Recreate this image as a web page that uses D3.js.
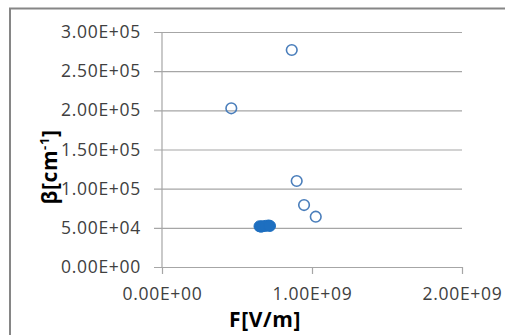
<!DOCTYPE html>
<html><head><meta charset="utf-8">
<script src="https://cdn.jsdelivr.net/npm/d3@7"></script>
<style>body{margin:0;background:#fff}svg{display:block}</style>
</head><body>
<svg id="c" width="505" height="335"></svg>
<script>
const openX = [8.65e8, 4.62e8, 8.98e8, 9.47e8, 1.025e9];
const openY = [2.77e5, 2.026e5, 1.098e5, 7.91e4, 6.42e4];
const filledX = [6.5e8, 6.6e8, 6.7e8, 6.9e8, 7.1e8, 7.2e8];
const filledY = [5.2e4, 5.15e4, 5.2e4, 5.25e4, 5.3e4, 5.25e4];
const xTicks = [0, 1e9, 2e9];
const yTicks = [0, 5e4, 1e5, 1.5e5, 2e5, 2.5e5, 3e5];
const fmt = v => { const s = v.toExponential(2).toUpperCase(); return s.replace(/E([+-])(\d)$/, "E$10$2"); };

const svg = d3.select("#c");
const x = d3.scaleLinear().domain([0, 2e9]).range([162, 462]);
const y = d3.scaleLinear().domain([0, 3e5]).range([267, 32]);
const font = "'Open Sans', sans-serif";

// outer border (top & left visible)
svg.append("path").attr("d", "M10,335 V8.5 H505").attr("fill", "none").attr("stroke", "#868686").attr("stroke-width", 2);

// y gridlines with left ticks
const yAxis = d3.axisLeft(y).tickValues(yTicks).tickSize(-(462 - 154)).tickSizeOuter(0).tickFormat(fmt);
const gy = svg.append("g").attr("transform", "translate(154,0)").call(yAxis);
gy.select(".domain").remove();
gy.selectAll(".tick line").attr("stroke", "#a6a6a6").attr("stroke-width", 1.2);
gy.selectAll(".tick text").attr("x", -13).attr("fill", "#404040").style("font-family", font)
  .style("font-size", "17.5px").style("letter-spacing", "0.7px");

// y axis line
svg.append("line").attr("x1", 162).attr("x2", 162).attr("y1", y(3e5)).attr("y2", y(0)).attr("stroke", "#a6a6a6").attr("stroke-width", 1.2);

// x axis
const xAxis = d3.axisBottom(x).tickValues(xTicks).tickSize(7).tickSizeOuter(0).tickFormat(fmt).tickPadding(14);
const gx = svg.append("g").attr("transform", "translate(0,267)").call(xAxis);
gx.select(".domain").attr("stroke", "#a6a6a6").attr("stroke-width", 1.2);
gx.selectAll(".tick line").attr("stroke", "#a6a6a6").attr("stroke-width", 1.2);
gx.selectAll(".tick text").attr("fill", "#404040").style("font-family", font)
  .style("font-size", "17.5px").style("letter-spacing", "0.7px");

// points
svg.append("g").selectAll("circle").data(filledX).join("circle")
  .attr("cx", (d) => x(d)).attr("cy", (d, i) => y(filledY[i])).attr("r", 5.5)
  .attr("fill", "#1e6fc0").attr("stroke", "#1e6fc0").attr("stroke-width", 1);
svg.append("g").selectAll("circle").data(openX).join("circle")
  .attr("cx", (d) => x(d)).attr("cy", (d, i) => y(openY[i])).attr("r", 5.3)
  .attr("fill", "none").attr("stroke", "#4a7ebb").attr("stroke-width", 1.6);

// titles
svg.append("text").attr("x", 265).attr("y", 327).attr("text-anchor", "middle")
  .style("font-family", font).style("font-weight", "bold").style("font-size", "21px").style("letter-spacing", "0.6px")
  .attr("fill", "#000").text("F[V/m]");
const yt = svg.append("text").attr("transform", "translate(57,167) rotate(-90)").attr("text-anchor", "middle")
  .style("font-family", font).style("font-weight", "bold").style("font-size", "21px").style("letter-spacing", "0.6px").attr("fill", "#000");
yt.append("tspan").text("β[cm");
yt.append("tspan").attr("dy", -8).style("font-size", "13px").text("-1");
yt.append("tspan").attr("dy", 8).text("]");
</script>
</body></html>
